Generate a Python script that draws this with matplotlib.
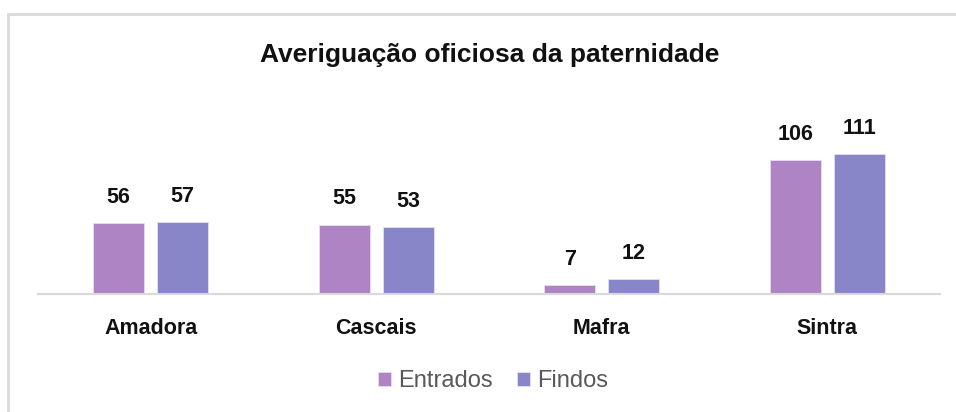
import matplotlib
matplotlib.use("Agg")
import matplotlib.pyplot as plt
import numpy as np
from matplotlib.patches import Rectangle

plt.rcParams["font.family"] = ["Liberation Sans Narrow", "Liberation Sans", "DejaVu Sans"]

categories = ["Amadora", "Cascais", "Mafra", "Sintra"]
entrados = [56, 55, 7, 106]
findos = [57, 53, 12, 111]
series_names = ["Entrados", "Findos"]
colors = ["#AE84C4", "#8886C8"]

fig = plt.figure(figsize=(9.56, 4.12), dpi=100)

# light frame (only top and left edges are visible in the crop)
fig.patches.append(Rectangle((8 / 956, -0.1), 1.2, (412 - 14) / 412 + 0.1,
                             transform=fig.transFigure, fill=False,
                             edgecolor="#D9D9D9", linewidth=2))

ax = fig.add_axes([38 / 956, 118 / 412, 902 / 956, 189 / 412])

x = np.arange(len(categories))
width = 0.227
off = 0.142

b1 = ax.bar(x - off, entrados, width, color=colors[0], edgecolor="#E8DDF0",
            linewidth=0.6, label=series_names[0])
b2 = ax.bar(x + off, findos, width, color=colors[1], edgecolor="#E0DFF2",
            linewidth=0.6, label=series_names[1])

for bars in (b1, b2):
    ax.bar_label(bars, padding=11, fontsize=15.5, fontweight="bold", color="#111111")

ax.set_xlim(-0.5, len(categories) - 0.5)
ax.set_ylim(0, 150)
ax.set_yticks([])
ax.set_xticks(x)
ax.set_xticklabels(categories, fontsize=15.5, fontweight="bold", color="#111111")
ax.tick_params(axis="x", length=0, pad=17)
for s in ["top", "right", "left"]:
    ax.spines[s].set_visible(False)
ax.spines["bottom"].set_color("#D9D9D9")
ax.spines["bottom"].set_linewidth(1.5)

fig.text(490 / 956, 1 - 55 / 412, "Averiguação oficiosa da paternidade",
         ha="center", va="center", fontsize=19, fontweight="bold", color="#111111")

fig.legend(handles=[b1, b2], loc="center", bbox_to_anchor=(493 / 956, 1 - 381 / 412),
           ncol=2, frameon=False, fontsize=17, labelcolor="#595959",
           handlelength=0.55, handleheight=0.55, handletextpad=0.3, columnspacing=1.0)

fig.savefig("out.png", dpi=100)
